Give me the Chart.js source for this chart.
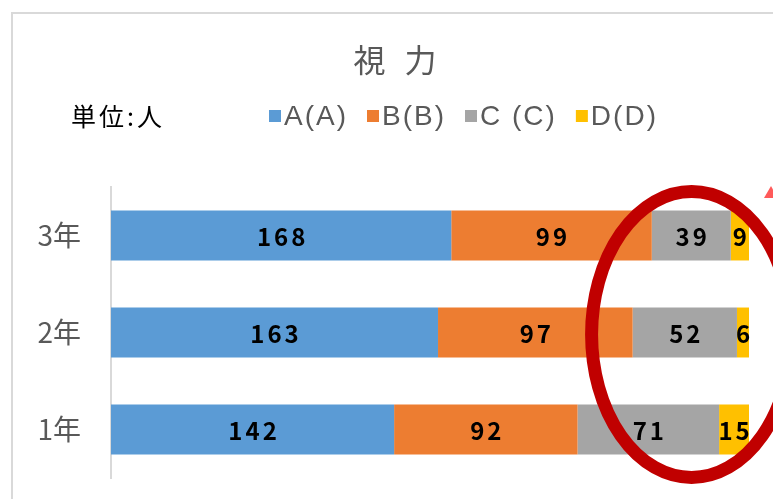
<!DOCTYPE html>
<html>
<head>
<meta charset="utf-8">
<script src="https://cdn.jsdelivr.net/npm/chart.js@4.4.0/dist/chart.umd.min.js"></script>
<style>
  html, body { margin: 0; padding: 0; background: #fff; }
  #wrap { width: 773px; height: 499px; position: relative; }
</style>
</head>
<body>
<div id="wrap"><canvas id="chart" width="773" height="499"></canvas></div>
<script>
// 視力 data (人)
const grades = ["3年", "2年", "1年"];
const seriesNames = ["A(A)", "B(B)", "C (C)", "D(D)"];
const valuesA = [168, 163, 142];
const valuesB = [99, 97, 92];
const valuesC = [39, 52, 71];
const valuesD = [9, 6, 15];
const colors = ["#5b9bd5", "#ed7d31", "#a5a5a5", "#ffc000"];

const rawSeries = [valuesA, valuesB, valuesC, valuesD];
const totals = grades.map((g, i) => rawSeries.reduce((s, arr) => s + arr[i], 0));

// 100% stacked: share of each grade
const datasets = rawSeries.map((arr, k) => ({
  label: seriesNames[k],
  data: arr.map((v, i) => (v / totals[i]) * 100),
  raw: arr,
  backgroundColor: colors[k],
  borderWidth: 0,
  categoryPercentage: 0.515,
  barPercentage: 1,
}));

const CJK = '"Noto Sans CJK JP", "Noto Sans", sans-serif';
const LATIN = '"Liberation Sans", "Noto Sans", sans-serif';

// frame, title, unit label, legend, value labels, annotation ellipse
const decorPlugin = {
  id: "decor",
  beforeDraw(chart) {
    const c = chart.ctx;
    c.save();
    c.fillStyle = "#fff";
    c.fillRect(0, 0, chart.width, chart.height);
    c.strokeStyle = "#d9d9d9";
    c.lineWidth = 2;
    c.strokeRect(12, 13, chart.width + 20, chart.height + 20);
    c.restore();
  },
  afterDraw(chart) {
    const c = chart.ctx;
    c.save();

    // title
    c.fillStyle = "#595959";
    c.font = "32px " + CJK;
    c.textAlign = "center";
    c.textBaseline = "middle";
    c.letterSpacing = "6px";
    c.fillText("視 力", 398, 60);

    // unit
    c.fillStyle = "#000";
    c.font = "25px " + CJK;
    c.textAlign = "left";
    c.letterSpacing = "3px";
    c.fillText("単位:人", 71, 116);

    // legend
    c.font = "28px " + LATIN;
    c.letterSpacing = "2px";
    let x = 269;
    seriesNames.forEach((name, k) => {
      c.fillStyle = colors[k];
      c.fillRect(x, 110, 12, 12);
      x += 15;
      c.fillStyle = "#595959";
      c.fillText(name, x, 117);
      x += c.measureText(name).width + 19;
    });

    // value labels
    c.fillStyle = "#000";
    c.font = "600 24px " + CJK;
    c.textAlign = "center";
    c.letterSpacing = "3px";
    chart.data.datasets.forEach((ds, k) => {
      chart.getDatasetMeta(k).data.forEach((bar, i) => {
        const cx = (bar.x + bar.base) / 2;
        c.fillText(String(ds.raw[i]), cx + 1.5, bar.y + 1);
      });
    });
    c.letterSpacing = "0px";

    // red annotation ellipse around C / D columns
    const xs = chart.scales.x, ys = chart.scales.y;
    const ex = xs.getPixelForValue(91);
    const ey = ys.getPixelForValue(1) + 2;
    c.strokeStyle = "#c00000";
    c.lineWidth = 13;
    c.beginPath();
    c.ellipse(ex, ey, 100, 143, 0, 0, Math.PI * 2);
    c.stroke();

    // arrow tip at the top right
    c.fillStyle = "#ff5a5a";
    c.beginPath();
    c.moveTo(771, 186);
    c.lineTo(764, 198);
    c.lineTo(778, 198);
    c.closePath();
    c.fill();

    c.restore();
  },
};

new Chart(document.getElementById("chart"), {
  type: "bar",
  data: { labels: grades, datasets: datasets },
  options: {
    indexAxis: "y",
    responsive: false,
    animation: false,
    layout: { padding: { top: 187, right: 24, bottom: 21, left: 12 } },
    plugins: {
      legend: { display: false },
      title: { display: false },
      tooltip: { enabled: false },
    },
    scales: {
      x: {
        stacked: true,
        min: 0,
        max: 100,
        display: false,
      },
      y: {
        stacked: true,
        grid: { display: false, drawTicks: false },
        border: { display: true, color: "#d9d9d9", width: 2 },
        ticks: {
          color: "#595959",
          padding: 30,
          font: { size: 28, family: CJK },
        },
        afterFit(scale) {
          scale.width = 99;
          scale.paddingTop = 0;
          scale.paddingBottom = 0;
        },
      },
    },
  },
  plugins: [decorPlugin],
});
</script>
</body>
</html>
